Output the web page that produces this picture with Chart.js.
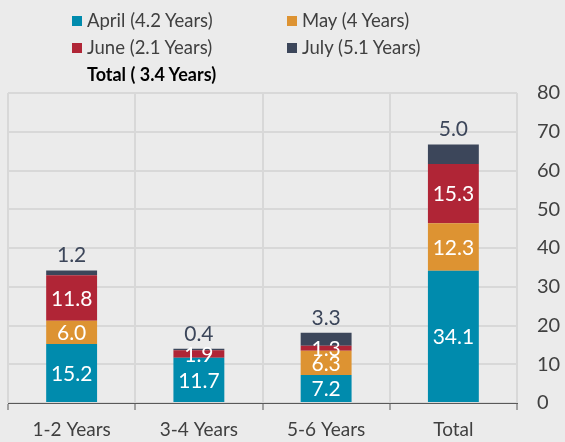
<!DOCTYPE html>
<html>
<head>
<meta charset="utf-8">
<script src="https://cdn.jsdelivr.net/npm/chart.js@4"></script>
<style>
  body { margin: 0; background: #ebebeb; font-family: Lato, sans-serif; }
  #wrap { position: relative; width: 565px; height: 442px; }
  #chart { position: absolute; left: 0; top: 0; }
  #legend { position: absolute; left: 72px; top: 9px; width: 420px; }
  .item { position: absolute; font-size: 18.5px; color: #404040; white-space: nowrap; line-height: 22px; }
  .item span { display: inline-block; width: 10px; height: 10px; margin-right: 5px; vertical-align: 1px; }
  #total { position: absolute; left: 87px; top: 63px; font-size: 18px; font-weight: bold; color: #000; }
</style>
</head>
<body>
<div id="wrap">
  <canvas id="chart" width="565" height="442"></canvas>
  <div id="legend"></div>
  <div id="total">Total ( 3.4 Years)</div>
</div>
<script>
const categories = ['1-2 Years', '3-4 Years', '5-6 Years', 'Total'];
const seriesNames = ['April (4.2 Years)', 'May (4 Years)', 'June (2.1 Years)', 'July (5.1 Years)'];
const april = [15.2, 11.7, 7.2, 34.1];
const may = [6.0, 0, 6.3, 12.3];
const june = [11.8, 1.9, 1.3, 15.3];
const july = [1.2, 0.4, 3.3, 5.0];
const colors = ['#008bad', '#dd9332', '#b02536', '#3c465a'];

const allValues = [april, may, june, july];

// legend, two columns like the original
const legend = document.getElementById('legend');
seriesNames.forEach(function(name, i) {
  var d = document.createElement('div');
  d.className = 'item';
  d.style.left = (i % 2 == 0 ? 0 : 215) + 'px';
  d.style.top = (Math.floor(i / 2) * 27) + 'px';
  d.innerHTML = '<span style="background:' + colors[i] + '"></span>' + name;
  legend.appendChild(d);
});

const labelPlugin = {
  id: 'barLabels',
  afterDatasetsDraw(chart) {
    const ctx = chart.ctx;
    ctx.save();
    ctx.textAlign = 'center';
    ctx.textBaseline = 'middle';
    ctx.font = '21px Lato';
    chart.data.datasets.forEach(function(ds, i) {
      const meta = chart.getDatasetMeta(i);
      meta.data.forEach(function(bar, j) {
        const v = ds.data[j];
        if (!v) return;
        const txt = v.toFixed(1);
        if (i == 3) {
          ctx.fillStyle = '#3c465a';
          ctx.fillText(txt, bar.x, bar.y - 15);
        } else {
          ctx.fillStyle = '#ffffff';
          ctx.fillText(txt, bar.x, (bar.y + bar.base) / 2 + 1);
        }
      });
    });
    ctx.restore();
  }
};

new Chart(document.getElementById('chart'), {
  type: 'bar',
  data: {
    labels: categories,
    datasets: allValues.map(function(vals, i) {
      return {
        label: seriesNames[i],
        data: vals,
        backgroundColor: colors[i],
        borderWidth: 0,
        categoryPercentage: 1,
        barPercentage: 0.4
      };
    })
  },
  options: {
    responsive: false,
    animation: false,
    layout: { padding: { top: 93, left: 8, right: 0, bottom: 0 } },
    plugins: {
      legend: { display: false },
      tooltip: { enabled: false }
    },
    scales: {
      x: {
        stacked: true,
        offset: true,
        afterFit: function(scale) { scale.height = 39; },
        grid: { offset: true, color: '#d8d8d8', lineWidth: 2, tickColor: '#595959', tickLength: 7, tickWidth: 1 },
        border: { color: '#595959', width: 1 },
        ticks: { color: '#404040', font: { family: 'Lato', size: 19 }, padding: 8, maxRotation: 0 }
      },
      y: {
        stacked: true,
        position: 'right',
        min: 0,
        max: 80,
        afterFit: function(scale) { scale.width = 48; },
        ticks: { stepSize: 10, color: '#404040', font: { family: 'Lato', size: 20 }, padding: 20 },
        grid: { color: '#d8d8d8', lineWidth: 2, drawTicks: false },
        border: { display: false }
      }
    }
  },
  plugins: [labelPlugin]
});
</script>
</body>
</html>
